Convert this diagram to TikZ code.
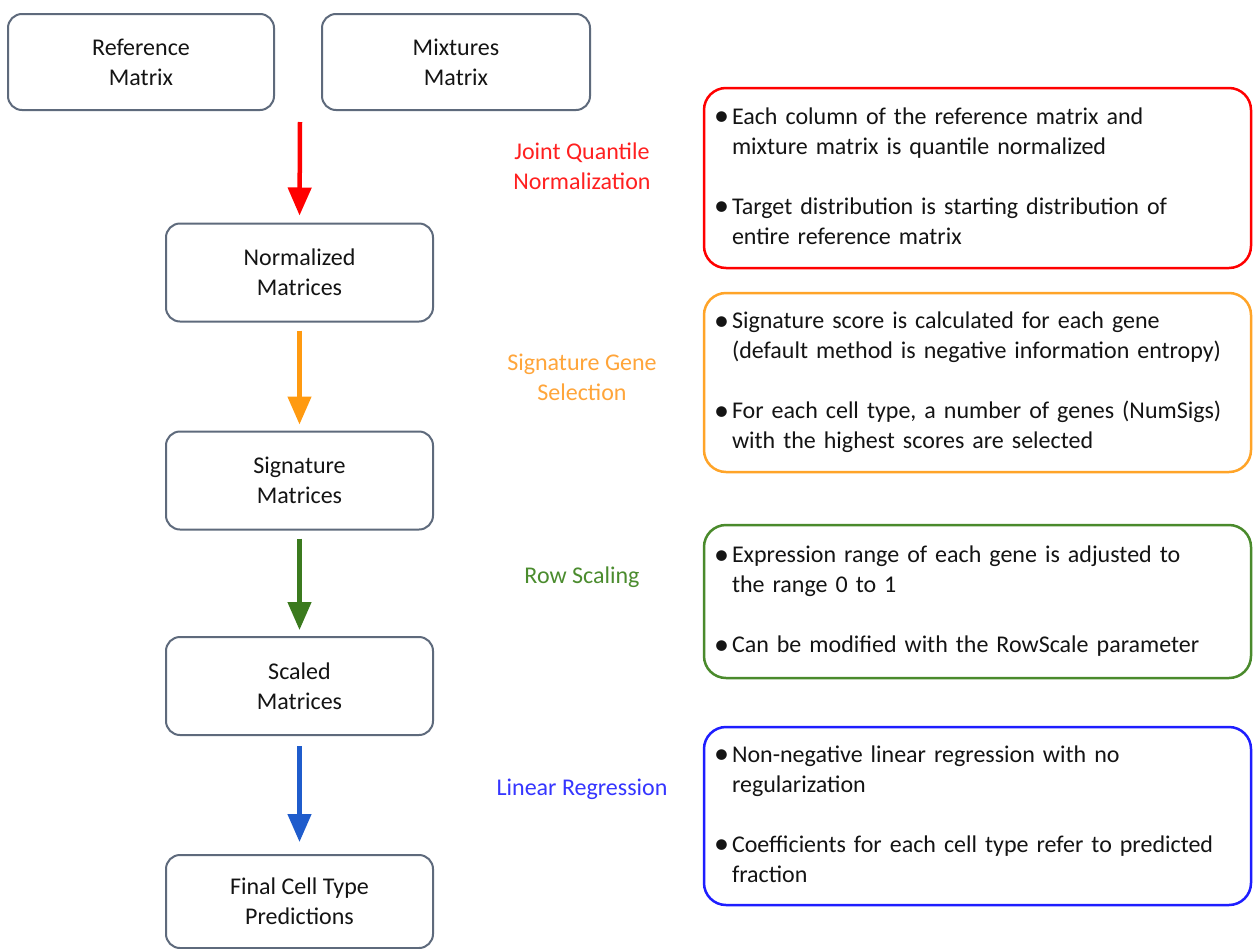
\documentclass[tikz,border=0pt]{standalone}
\usepackage{fontspec}
\setmainfont{Carlito}
\usetikzlibrary{arrows.meta}
\definecolor{boxgray}{HTML}{5E6A7C}
\definecolor{txtgray}{HTML}{141414}
\definecolor{cRed}{HTML}{FF0000}
\definecolor{cRedL}{HTML}{FF2020}
\definecolor{cOrange}{HTML}{FF9A10}
\definecolor{cOrangeB}{HTML}{FFA428}
\definecolor{cOrangeL}{HTML}{FFA53A}
\definecolor{cGreen}{HTML}{3B7A1E}
\definecolor{cGreenB}{HTML}{4A8A2C}
\definecolor{cGreenL}{HTML}{4B8C2E}
\definecolor{cBlueA}{HTML}{1F5CCC}
\definecolor{cBlueB}{HTML}{1E1EFF}
\definecolor{cBlueL}{HTML}{3535FF}
\newcommand{\bigbul}{\makebox[15pt][l]{\hspace{-3pt}\makebox[0pt][l]{\raisebox{-1.5pt}{\fontsize{30}{30}\selectfont •}}}}
\begin{document}
\begin{tikzpicture}[x=1pt,y=-1pt,
  flowbox/.style={draw=boxgray, line width=2pt, rounded corners=14pt, align=center,
    text=txtgray, font=\fontsize{24}{30}\selectfont, minimum width=267pt, minimum height=98pt, inner sep=0pt},
  infobox/.style={line width=2.5pt, rounded corners=22pt, align=left, text=txtgray,
    font=\fontsize{24}{30}\selectfont, minimum width=547pt, text width=521pt, inner xsep=13pt, inner ysep=0pt},
  lbl/.style={align=center, font=\fontsize{24}{30}\selectfont},
  arr/.style={line width=4.5pt, -{Triangle[length=28pt,width=23pt]}}
]
\useasboundingbox (0,0) rectangle (1253,948);
\fill[white] (0,0) rectangle (1253,948);

% left flow boxes
\node[flowbox, minimum width=266pt, minimum height=96pt] (ref) at (141,62) {Reference\\Matrix};
\node[flowbox, minimum width=268pt, minimum height=96pt] (mix) at (456,62) {Mixtures\\Matrix};
\node[flowbox] (norm) at (299.5,272.5) {Normalized\\Matrices};
\node[flowbox] (sig) at (299.5,480.5) {Signature\\Matrices};
\node[flowbox] (scaled) at (299.5,686) {Scaled\\Matrices};
\node[flowbox, minimum height=93pt] (final) at (299.5,901.5) {Final Cell Type\\Predictions};

% arrows
\coordinate (a0) at (300,122);
\draw[arr, cRed, shorten >=7pt] (a0) -- (norm.north);
\draw[arr, cOrange, shorten <=8pt, shorten >=6pt] (norm.south) -- (sig.north);
\draw[arr, cGreen, shorten <=8pt, shorten >=6pt] (sig.south) -- (scaled.north);
\draw[arr, cBlueA, shorten <=10pt, shorten >=12pt] (scaled.south) -- (final.north);

% step labels
\node[lbl, text=cRedL] (l1) at (582,166) {Joint Quantile\\Normalization};
\node[lbl, text=cOrangeL] (l2) at (582,377) {Signature Gene\\Selection};
\node[lbl, text=cGreenL] (l3) at (582,577) {Row Scaling};
\node[lbl, text=cBlueL] (l4) at (582,789) {Linear Regression};

% info boxes
\node[infobox, draw=cRed, minimum height=180pt] (i1) at (977.5,178) {%
\begin{tabular}{@{}l@{}l@{}}
\bigbul & Each column of the reference matrix and\\
 & mixture matrix is quantile normalized\\[30pt]
\bigbul & Target distribution is starting distribution of\\
 & entire reference matrix
\end{tabular}};
\node[infobox, draw=cOrangeB, minimum height=179pt] (i2) at (977.5,382.5) {%
\begin{tabular}{@{}l@{}l@{}}
\bigbul & Signature score is calculated for each gene\\
 & (default method is negative information entropy)\\[30pt]
\bigbul & For each cell type, a number of genes (NumSigs)\\
 & with the highest scores are selected
\end{tabular}};
\node[infobox, draw=cGreenB, minimum height=153pt] (i3) at (977.5,601.5) {%
\begin{tabular}{@{}l@{}l@{}}
\bigbul & Expression range of each gene is adjusted to\\
 & the range 0 to 1\\[30pt]
\bigbul & Can be modified with the RowScale parameter
\end{tabular}};
\node[infobox, draw=cBlueB, minimum height=178pt] (i4) at (977.5,816) {%
\begin{tabular}{@{}l@{}l@{}}
\bigbul & Non-negative linear regression with no\\
 & regularization\\[30pt]
\bigbul & Coefficients for each cell type refer to predicted\\
 & fraction
\end{tabular}};
\end{tikzpicture}
\end{document}
